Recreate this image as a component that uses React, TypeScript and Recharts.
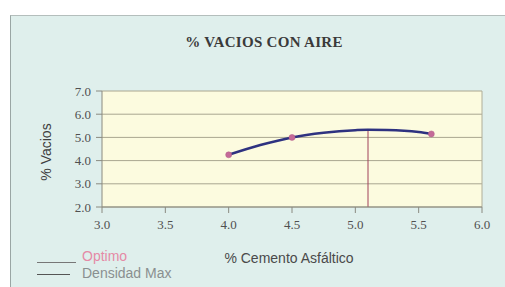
import React from "react";
import {
  ComposedChart,
  Line,
  Scatter,
  XAxis,
  YAxis,
  CartesianGrid,
  ReferenceLine,
  Label,
} from "recharts";

const xTicks = [3.0, 3.5, 4.0, 4.5, 5.0, 5.5, 6.0];
const yTicks = [2.0, 3.0, 4.0, 5.0, 6.0, 7.0];

const pointX = [4.0, 4.5, 5.6];
const pointY = [4.25, 5.0, 5.15];

const curveX = [4.0, 4.25, 4.5, 4.75, 5.0, 5.1, 5.25, 5.5, 5.6];
const curveY = [4.25, 4.67, 5.0, 5.2, 5.31, 5.33, 5.32, 5.23, 5.15];

const optimoX = 5.1;
const optimoTop = 5.33;

const points = pointX.map((x, i) => ({ x, y: pointY[i] }));
const curve = curveX.map((x, i) => ({ x, y: curveY[i] }));
const optimo = [
  { x: optimoX, y: 2.0 },
  { x: optimoX, y: optimoTop },
];

const fmt = (v: number) => v.toFixed(1);

const Dot = (props: any) => {
  const { cx, cy } = props;
  return <circle cx={cx} cy={cy} r={3} fill="#c46a98" stroke="#b05a88" strokeWidth={0.5} />;
};

export default function App() {
  return (
    <div
      style={{
        position: "absolute",
        left: 0,
        top: 0,
        width: 505,
        height: 287,
        background: "#ffffff",
        overflow: "hidden",
      }}
    >
      <div
        style={{
          position: "absolute",
          left: 10,
          top: 15,
          width: 500,
          height: 280,
          background: "#dfefec",
          borderLeft: "1px solid #9aa6a4",
          borderTop: "1px solid #b4bebc",
        }}
      />
      <div
        style={{
          position: "absolute",
          left: 177,
          width: 174,
          top: 34,
          textAlign: "center",
          whiteSpace: "nowrap",
          fontFamily: "'Liberation Serif', serif",
          fontWeight: "bold",
          fontSize: 15,
          letterSpacing: 0.3,
          color: "#3a3a3a",
        }}
      >
        % VACIOS CON AIRE
      </div>
      <div style={{ position: "absolute", left: 0, top: 0 }}>
        <ComposedChart
          width={505}
          height={287}
          margin={{ top: 91, right: 23, left: 62, bottom: 60 }}
        >
          <CartesianGrid
            vertical={false}
            stroke="#a9a690"
            fill="#fcfbdf"
            horizontalValues={yTicks}
          />
          <XAxis
            type="number"
            dataKey="x"
            domain={[3, 6]}
            ticks={xTicks}
            tickFormatter={fmt}
            stroke="#8a8a80"
            tickLine={{ stroke: "#8a8a80" }}
            tickMargin={7}
            tick={{ fill: "#505050", fontSize: 13, fontFamily: "'Liberation Serif', serif" }}
            height={20}
            allowDataOverflow
          >
            <Label
              value="% Cemento Asfáltico"
              position="insideBottom"
              offset={-36}
              dx={-3}
              style={{ fill: "#4a4a4a", fontSize: 14, fontFamily: "'Liberation Sans', sans-serif" }}
            />
          </XAxis>
          <YAxis
            type="number"
            dataKey="y"
            domain={[2, 7]}
            ticks={yTicks}
            tickFormatter={fmt}
            stroke="#8a8a80"
            tickLine={{ stroke: "#8a8a80" }}
            tickMargin={5}
            tick={{ fill: "#505050", fontSize: 13, fontFamily: "'Liberation Serif', serif" }}
            width={40}
            allowDataOverflow
          >
            <Label
              value="% Vacios"
              angle={-90}
              position="insideLeft"
              offset={-16}
              dy={3}
              style={{ fill: "#3f3f3f", fontSize: 14, fontFamily: "'Liberation Sans', sans-serif", textAnchor: "middle" }}
            />
          </YAxis>
          <ReferenceLine x={6} stroke="#b0ae98" />
          <Line
            data={optimo}
            dataKey="y"
            stroke="#a0405a"
            strokeWidth={1}
            dot={false}
            isAnimationActive={false}
          />
          <Line
            data={curve}
            dataKey="y"
            type="monotone"
            stroke="#2e3280"
            strokeWidth={2.5}
            dot={false}
            isAnimationActive={false}
          />
          <Scatter
            data={points}
            dataKey="y"
            shape={<Dot />}
            isAnimationActive={false}
          />
        </ComposedChart>
      </div>
      <div
        style={{
          position: "absolute",
          left: 37,
          top: 262,
          width: 39,
          height: 1,
          background: "#777",
        }}
      />
      <div
        style={{
          position: "absolute",
          left: 37,
          top: 274,
          width: 33,
          height: 1,
          background: "#555",
        }}
      />
      <div
        style={{
          position: "absolute",
          left: 82,
          top: 248,
          fontFamily: "'Liberation Sans', sans-serif",
          fontSize: 14,
          color: "#e58aa6",
        }}
      >
        Optimo
      </div>
      <div
        style={{
          position: "absolute",
          left: 82,
          top: 265,
          fontFamily: "'Liberation Sans', sans-serif",
          fontSize: 14,
          color: "#8a8f90",
        }}
      >
        Densidad Max
      </div>
    </div>
  );
}
